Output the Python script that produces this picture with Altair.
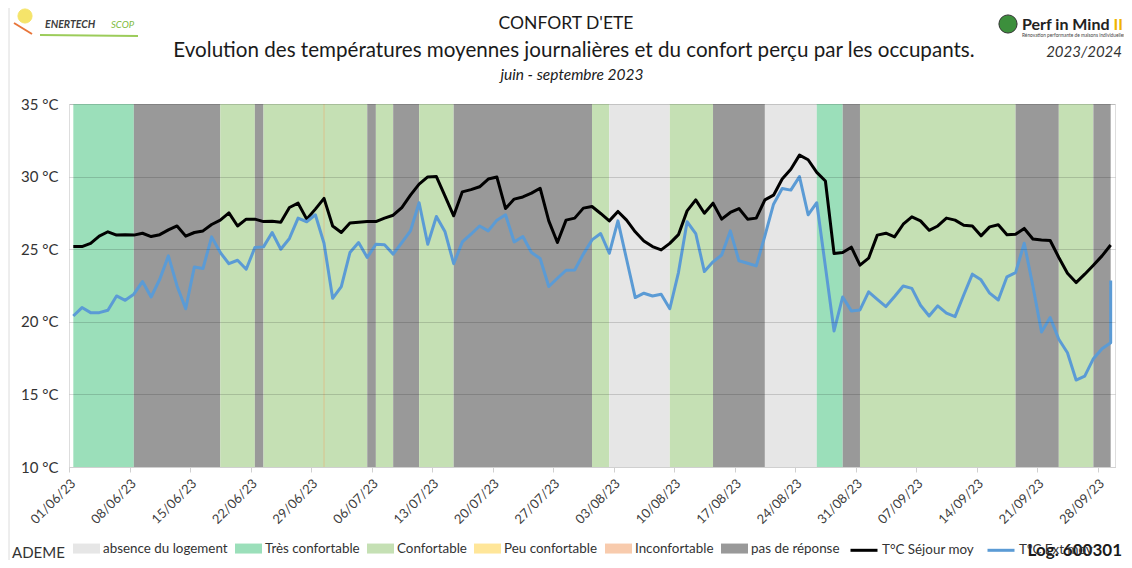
import altair as alt
import pandas as pd

# ---------------- data ----------------
days = pd.date_range("2023-06-01 12:00", periods=121, freq="D")

t_sejour = [25.18, 25.18, 25.4, 25.9, 26.2, 25.97, 26.0, 25.97, 26.1, 25.87,
            26.0, 26.33, 26.6, 25.9, 26.15, 26.26, 26.7, 27.0, 27.5, 26.6,
            27.07, 27.07, 26.9, 26.93, 26.86, 27.87, 28.17, 27.07, 27.76, 28.5,
            26.6, 26.15, 26.8, 26.86, 26.9, 26.9, 27.14, 27.34, 27.87, 28.72,
            29.48, 29.98, 30.0, 28.65, 27.3,
            28.95, 29.1, 29.3, 29.83, 29.97, 27.8, 28.45, 28.6, 28.86, 29.2,
            26.95, 25.46, 27.0, 27.14, 27.83, 27.94, 27.46, 26.95, 27.6, 27.0,
            26.2, 25.57, 25.18, 24.95, 25.4, 26.0, 27.64, 28.4, 27.48, 28.17,
            27.07, 27.53, 27.8, 27.07, 27.14, 28.4, 28.72, 29.83, 30.5, 31.48,
            31.16, 30.29, 29.7, 24.7, 24.77, 25.14, 23.9, 24.38, 25.97, 26.1,
            25.85, 26.72, 27.23, 26.95, 26.3, 26.6, 27.14, 27.0, 26.65, 26.6,
            25.92, 26.54, 26.68, 25.99, 26.03, 26.43, 25.7, 25.64, 25.6, 24.43,
            23.34, 22.7, 23.28, 23.9, 24.54, 25.29]

t_ext = [20.4, 20.98, 20.63, 20.63, 20.8, 21.78, 21.48, 21.9, 22.77, 21.71,
         22.93, 24.54, 22.47, 20.9, 23.78, 23.67, 25.85, 24.77, 24.0, 24.24,
         23.62, 25.11, 25.16, 26.15, 25.0, 25.74, 27.14, 26.89, 27.37, 25.41,
         21.62, 22.43, 24.77, 25.46, 24.43, 25.34, 25.3, 24.66, 25.46, 26.26,
         28.2, 25.34, 27.25, 26.2, 24.0,
         25.5, 26.03, 26.6, 26.26, 27.0, 27.37, 25.5, 25.87, 24.77, 24.36,
         22.43, 23.0, 23.55, 23.57, 24.66, 25.64, 26.08, 24.72, 26.95, 24.31,
         21.67, 21.97, 21.78, 21.9, 20.9, 23.39, 26.89, 26.08, 23.46, 24.13,
         24.6, 26.26, 24.2, 24.03, 23.85, 25.92, 28.1, 29.18, 29.07, 30.0,
         27.37, 28.2,
         23.8, 19.37, 21.71, 20.75, 20.82, 22.06, 21.55, 21.05, 21.74, 22.47,
         22.3, 21.14, 20.4, 21.1, 20.6, 20.36, 21.85, 23.28, 22.89, 21.97,
         21.5, 23.1, 23.39, 25.41, 22.47, 19.3, 20.29, 18.8, 17.87, 15.99,
         16.26, 17.46, 18.15, 18.56]
t_ext_last = 22.85  # final value drawn on the last day

assert len(t_sejour) == 121 and len(t_ext) == 121

band_start = ["2023-06-01", "2023-06-08", "2023-06-18", "2023-06-22", "2023-06-23",
              "2023-07-05", "2023-07-06", "2023-07-08", "2023-07-11", "2023-07-15",
              "2023-07-31", "2023-08-02", "2023-08-09", "2023-08-14", "2023-08-20",
              "2023-08-26", "2023-08-29", "2023-08-31", "2023-09-18", "2023-09-23",
              "2023-09-27"]
band_end = band_start[1:] + ["2023-09-29"]
band_cat = ["Très confortable", "pas de réponse", "Confortable", "pas de réponse",
            "Confortable", "pas de réponse", "Confortable", "pas de réponse",
            "Confortable", "pas de réponse", "Confortable", "absence du logement",
            "Confortable", "pas de réponse", "absence du logement", "Très confortable",
            "pas de réponse", "Confortable", "pas de réponse", "Confortable",
            "pas de réponse"]
peu_conf_days = ["2023-06-30"]

confort_cats = ["absence du logement", "Très confortable", "Confortable",
                "Peu confortable", "Inconfortable", "pas de réponse"]
confort_colors = ["#e6e6e6", "#9bdfba", "#c5e0b4", "#ffe699", "#f8cbad", "#999999"]

series_names = ["T°C Séjour moy", "T°C Ext moy"]
series_colors = ["#000000", "#5b9bd5"]

tick_dates = ["2023-06-01", "2023-06-08", "2023-06-15", "2023-06-22", "2023-06-29",
              "2023-07-06", "2023-07-13", "2023-07-20", "2023-07-27", "2023-08-03",
              "2023-08-10", "2023-08-17", "2023-08-24", "2023-08-31", "2023-09-07",
              "2023-09-14", "2023-09-21", "2023-09-28"]

# ---------------- tables ----------------
noon = pd.Timedelta(hours=12)
bands_df = pd.DataFrame({
    "start": pd.to_datetime(band_start) + noon,
    "end": pd.to_datetime(band_end) + noon,
    "cat": band_cat,
})
peu_df = pd.DataFrame({"d": pd.to_datetime(peu_conf_days) + noon})

rows = []
for i, d in enumerate(days):
    rows.append({"date": d, "temp": t_sejour[i], "serie": series_names[0], "idx": i})
for i, d in enumerate(days):
    rows.append({"date": d, "temp": t_ext[i], "serie": series_names[1], "idx": i})
rows.append({"date": days[-1], "temp": t_ext_last, "serie": series_names[1], "idx": 121})
lines_df = pd.DataFrame(rows)


def dt(s):
    t = pd.Timestamp(s)
    return alt.DateTime(year=t.year, month=t.month, date=t.day)


FONT = "Lato"
W, H = 1046, 363

xscale = alt.Scale(domain=[dt("2023-06-01"), dt("2023-09-30")])
yscale = alt.Scale(domain=[10, 35])

xaxis = alt.Axis(values=[dt(s) for s in tick_dates], format="%d/%m/%y", labelAngle=-45,
                 labelAlign="right", labelBaseline="middle", labelFont=FONT,
                 labelFontSize=13, labelColor="#404040", labelOffset=4, labelPadding=9,
                 grid=False, domainColor="#d0d0d0", tickColor="#d0d0d0", tickSize=5,
                 title=None, zindex=1)
yaxis = alt.Axis(values=[10, 15, 20, 25, 30, 35], labelExpr="datum.value + ' °C'",
                 grid=True, gridColor="#000000", gridOpacity=0.15, domain=False,
                 ticks=False, labelFont=FONT, labelFontSize=15, labelColor="#333333",
                 labelPadding=11, title=None, zindex=1)

fill_legend = alt.Legend(orient="none", legendX=4, legendY=431, direction="horizontal",
                         title=None, symbolType="M-1,-0.37H1V0.37H-1Z", symbolSize=729,
                         symbolStrokeWidth=0, labelFont=FONT, labelFontSize=13.4,
                         labelColor="#333333", labelOffset=3, columnPadding=7)
stroke_legend = alt.Legend(orient="none", legendX=780, legendY=431, direction="horizontal",
                           title=None, symbolType="stroke", symbolSize=729,
                           symbolStrokeWidth=3, labelFont=FONT, labelFontSize=13.4,
                           labelColor="#333333", labelOffset=3, columnPadding=7)

bands = alt.Chart(bands_df).mark_rect().encode(
    x=alt.X("start:T", scale=xscale, axis=xaxis),
    x2="end:T",
    fill=alt.Fill("cat:N", scale=alt.Scale(domain=confort_cats, range=confort_colors),
                  legend=fill_legend),
)

peu_rule = alt.Chart(peu_df).mark_rule(color="#d9c48e", strokeWidth=1).encode(
    x=alt.X("d:T", scale=xscale)
)

lines = alt.Chart(lines_df).mark_line(strokeWidth=3, strokeJoin="round").encode(
    x=alt.X("date:T", scale=xscale),
    y=alt.Y("temp:Q", scale=yscale, axis=yaxis),
    stroke=alt.Stroke("serie:N", scale=alt.Scale(domain=series_names, range=series_colors),
                      legend=stroke_legend),
    order="idx:Q",
)


def txt(s, x, y, size, weight="normal", style="normal", color="#1a1a1a", align="left"):
    return alt.Chart(pd.DataFrame({"t": [s]})).mark_text(
        font=FONT, fontSize=size, fontWeight=weight, fontStyle=style, color=color,
        align=align, baseline="alphabetic"
    ).encode(x=alt.value(x), y=alt.value(y), text="t:N")


def dot(x, y, size, color, stroke="#ffffff"):
    return alt.Chart(pd.DataFrame({"t": [0]})).mark_point(
        shape="circle", filled=True, size=size, fill=color, stroke=stroke, strokeWidth=1,
        opacity=1
    ).encode(x=alt.value(x), y=alt.value(y))


OX, OY = 69, 104  # page position of the plot origin

texts = [
    txt("CONFORT D'ETE", 566 - OX, 29 - OY, 17.5, color="#1a1a1a", align="center"),
    txt("Evolution des températures moyennes journalières et du confort perçu par les occupants.",
        574 - OX, 57 - OY, 20.6, align="center"),
    txt("juin - septembre 2023", 572 - OX, 80 - OY, 15.5, style="italic", align="center"),
    txt("2023/2024", 1122 - OX, 57 - OY, 15, style="italic", color="#333333", align="right"),
    txt("ADEME", 12 - OX, 558 - OY, 15, color="#333333"),
    txt("Log. 600301", 1122 - OX, 556 - OY, 17, weight="bold", color="#1a1a1a", align="right"),
    # logos (approximated with text)
    txt("ENERTECH", 45 - OX, 28 - OY, 10.5, weight="bold", style="italic", color="#3d3d3d"),
    txt("SCOP", 111 - OX, 28 - OY, 9.5, style="italic", color="#7dbb3c"),
    txt("Perf in Mind", 1022 - OX, 30 - OY, 16, weight="bold", color="#222222"),
    txt("II", 1123 - OX, 30 - OY, 16, weight="bold", color="#f0b400", align="right"),
    txt("Rénovation performante de maisons individuelles", 1022 - OX, 37 - OY, 4.8,
        color="#444444"),
]
logos = [
    dot(25 - OX, 16 - OY, 200, "#f5e46a", stroke="#f5e46a"),
    dot(1008 - OX, 24 - OY, 330, "#3c8f3c", stroke="#333333"),
    alt.Chart(pd.DataFrame({"t": [0]})).mark_rule(color="#9ccc5a", strokeWidth=2).encode(
        x=alt.value(40 - OX), x2=alt.value(138 - OX), y=alt.value(35 - OY), y2=alt.value(36 - OY)),
    alt.Chart(pd.DataFrame({"t": [0]})).mark_rule(color="#e8753a", strokeWidth=2).encode(
        x=alt.value(14 - OX), x2=alt.value(32 - OX), y=alt.value(23 - OY), y2=alt.value(34 - OY)),
    alt.Chart(pd.DataFrame({"t": [0]})).mark_rule(color="#dcdcdc", strokeWidth=1).encode(
        x=alt.value(9 - OX), y=alt.value(8 - OY), y2=alt.value(560 - OY)),
]

chart = alt.layer(bands, peu_rule, lines, *texts, *logos).properties(
    width=W, height=H,
    autosize=alt.AutoSizeParams(type="none"),
    padding={"left": 61, "top": 96, "right": 9, "bottom": 93},
).configure_view(strokeWidth=0).configure(font=FONT)

chart.save("out.html", embed_options={"renderer": "svg", "actions": False})
